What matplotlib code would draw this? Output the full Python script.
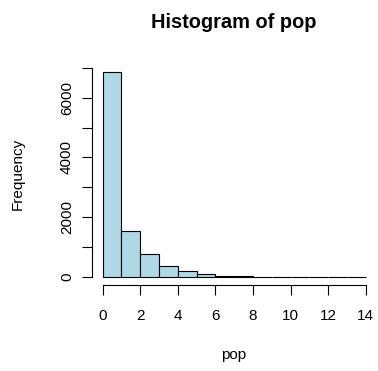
import matplotlib
matplotlib.use("Agg")
import matplotlib.pyplot as plt
import numpy as np

plt.rcParams['font.family'] = ['Liberation Sans', 'DejaVu Sans']

# histogram of pop, bin width 1
bin_edges = np.arange(0, 15)
counts = [6870, 1530, 757, 355, 190, 112, 45, 20, 12, 8, 5, 3, 2, 1]
x_ticks = [0, 2, 4, 6, 8, 10, 12, 14]
y_ticks = [0, 1000, 2000, 3000, 4000, 5000, 6000, 7000]
y_labels = ["0", "", "2000", "", "4000", "", "6000", ""]

W, H = 378, 371
fig = plt.figure(figsize=(W / 100, H / 100), dpi=100)
ax = fig.add_axes([92 / W, 1 - 285.2 / H, 284.4 / W, 221.8 / H])

ax.bar(bin_edges[:-1], counts, width=np.diff(bin_edges), align="edge",
       color="#add8e6", edgecolor="black", linewidth=0.8)

ax.set_xlim(-0.56, 14.56)
ax.set_ylim(-275, 7145)

for s in ["top", "right"]:
    ax.spines[s].set_visible(False)
ax.spines["left"].set_bounds(0, 7000)
ax.spines["bottom"].set_bounds(0, 14)
ax.spines["left"].set_linewidth(0.8)
ax.spines["bottom"].set_linewidth(0.8)

ax.set_xticks(x_ticks)
ax.set_yticks(y_ticks)
ax.set_yticklabels(y_labels, rotation=90, va="center")
ax.tick_params(length=7, width=0.8, labelsize=11)
ax.tick_params(axis="x", pad=10)
ax.tick_params(axis="y", pad=6)

fig.text(234 / W, 1 - 27.5 / H, "Histogram of pop", fontsize=14.4,
         fontweight="bold", ha="center", va="baseline")
fig.text(234 / W, 1 - 359 / H, "pop", fontsize=11, ha="center", va="baseline")
fig.text(18 / W, 1 - 174 / H, "Frequency", fontsize=11, rotation=90,
         ha="center", va="center")

plt.savefig("out.png", dpi=100)
